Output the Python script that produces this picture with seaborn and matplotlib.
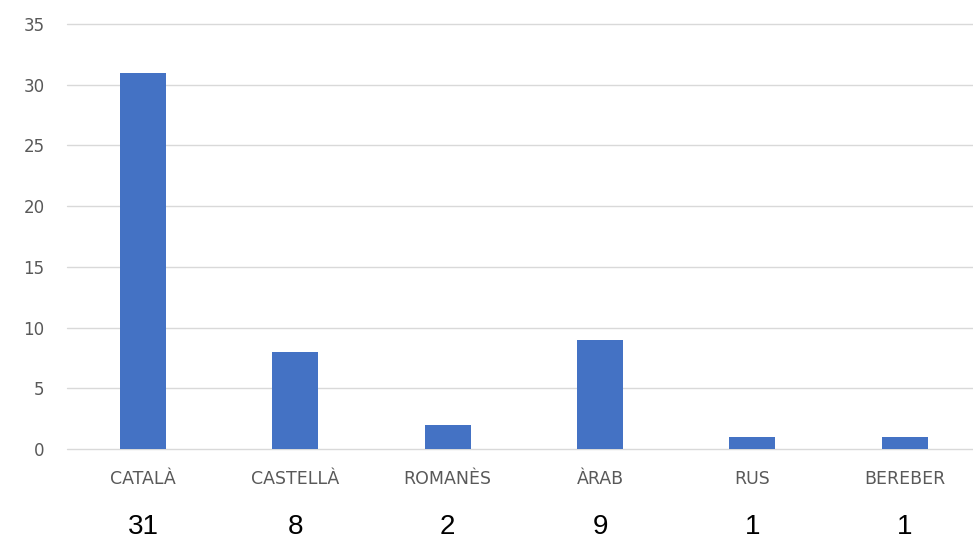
import matplotlib
matplotlib.use("Agg")
import matplotlib.pyplot as plt
import seaborn as sns
import pandas as pd
from matplotlib.transforms import blended_transform_factory

categories = ["CATALÀ", "CASTELLÀ", "ROMANÈS", "ÀRAB", "RUS", "BEREBER"]
values = [31, 8, 2, 9, 1, 1]
value_labels = ["31", "8", "2", "9", "1", "1"]
yticks = [0, 5, 10, 15, 20, 25, 30, 35]

df = pd.DataFrame({"cat": categories, "val": values})

sns.set_theme(style="white")
plt.rcParams['font.family'] = ['DejaVu Sans']

fig = plt.figure(figsize=(9.73, 5.40), dpi=100)
ax = fig.add_axes([0.0687, 1 - 449 / 540, 914 / 973, 425 / 540])

sns.barplot(data=df, x="cat", y="val", color="#4472C4", width=0.3, ax=ax,
            saturation=1, edgecolor="none")

ax.set_ylim(0, 35)
ax.set_yticks(yticks)
ax.set_xlim(-0.5, len(categories) - 0.5)
ax.yaxis.grid(True, color="#D9D9D9", linewidth=1)
for gl in ax.get_ygridlines():
    gl.set_clip_on(False)
ax.set_axisbelow(True)
for s in ax.spines.values():
    s.set_visible(False)
ax.set_xlabel("")
ax.set_ylabel("")
ax.tick_params(axis="both", length=0, colors="#595959")
ax.tick_params(axis="x", pad=15)
ax.tick_params(axis="y", pad=16)
for lbl in ax.get_xticklabels():
    lbl.set_fontfamily("DejaVu Sans")
    lbl.set_fontsize(12.5)
for lbl in ax.get_yticklabels():
    lbl.set_fontfamily("DejaVu Sans")
    lbl.set_fontsize(12)

trans = blended_transform_factory(ax.transData, fig.transFigure)
for i, t in enumerate(value_labels):
    ax.text(i, 1 - 527 / 540, t, transform=trans, ha="center", va="center",
            fontsize=20, color="black", fontfamily="Liberation Sans")

fig.savefig("out.png", dpi=100)
